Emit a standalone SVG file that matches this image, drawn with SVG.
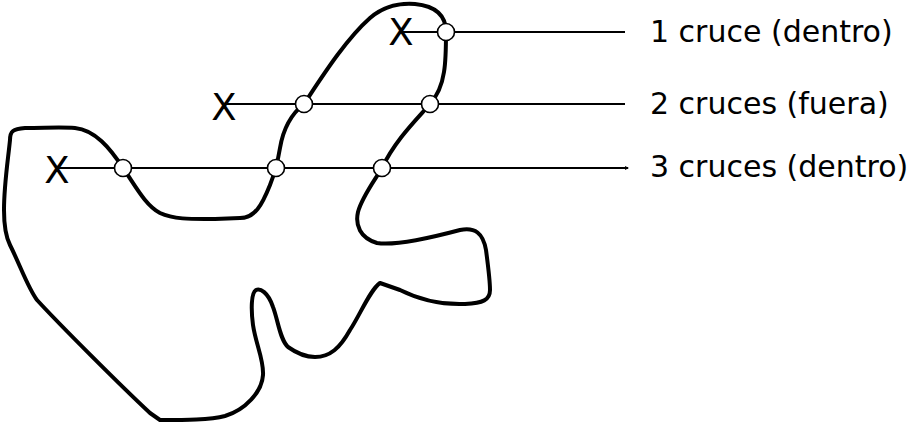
<svg xmlns="http://www.w3.org/2000/svg" width="908" height="424" viewBox="0 0 908 424">
<style>
.shape{fill:none;stroke:#000;stroke-width:4;stroke-linejoin:round}
.ray{stroke:#000;stroke-width:1.8;fill:none}
.pt{fill:#fff;stroke:#000;stroke-width:1.6}
.x{font-family:"DejaVu Sans",sans-serif;font-size:37px;fill:#000}
.lbl{font-family:"DejaVu Sans",sans-serif;font-size:30px;fill:#000}
</style>
<defs>
<marker id="tip" markerWidth="6" markerHeight="6" refX="3" refY="2" orient="auto" markerUnits="userSpaceOnUse">
<path d="M0,0 L4,2 L0,4 Z" fill="#000"/>
</marker>
</defs>
<rect width="908" height="424" fill="#fff"/>
<g id="polygon">
<path class="shape" d="M 10,140 C 10,131 13,129 25,128 C 45,128 60,127 75,128 C 95,130 110,148 123,168 C 135,185 145,205 160,213 C 175,220 195,219 215,219 L 240,218 C 255,218 262,205 270,185 C 276,170 278,160 280,148 C 283,130 290,115 304,104 C 320,80 345,40 370,18 C 385,5 400,3 415,4 C 435,6 446,15 446,32 C 446,45 446,60 444,72 C 442,85 438,95 430,104 C 418,118 395,140 382,168 C 375,180 362,197 358,212 C 355,225 360,238 377,243 C 395,246 430,238 460,230 C 475,227 483,233 486,250 C 488,265 490,280 490,290 C 490,300 483,303 465,304 C 440,305 420,300 400,290 L 380,283 C 370,290 360,315 350,330 C 340,348 330,357 315,357 C 305,357 295,352 288,347 C 280,340 278,320 273,307 C 268,292 260,288 256,290 C 251,293 251,310 253,325 C 256,345 264,360 263,375 C 262,392 245,410 225,416 C 210,420 185,420 160,420 L 150,413 C 120,385 60,325 37,300 C 28,288 20,265 10,245 C 5,235 4,225 4,210 C 4,185 8,160 10,140 Z"/>
</g>
<g id="connectors">
<line class="ray" x1="403" y1="32" x2="625" y2="32"/>
<line class="ray" x1="226" y1="104" x2="625" y2="104"/>
<line class="ray" x1="57" y1="168" x2="628" y2="168" marker-end="url(#tip)"/>
</g>
<g id="test-points">
<text class="x" x="401" y="45" text-anchor="middle">X</text>
<text class="x" x="224" y="120" text-anchor="middle">X</text>
<text class="x" x="57" y="183" text-anchor="middle">X</text>
</g>
<g id="crossings">
<circle class="pt" cx="446" cy="32" r="8.5"/>
<circle class="pt" cx="304" cy="104" r="8.5"/>
<circle class="pt" cx="430" cy="104" r="8.5"/>
<circle class="pt" cx="123" cy="168" r="8.5"/>
<circle class="pt" cx="276" cy="168" r="8.5"/>
<circle class="pt" cx="382" cy="168" r="8.5"/>
</g>
<g id="labels">
<text class="lbl" x="650" y="42">1 cruce (dentro)</text>
<text class="lbl" x="650" y="114">2 cruces (fuera)</text>
<text class="lbl" x="650" y="177">3 cruces (dentro)</text>
</g>
</svg>
